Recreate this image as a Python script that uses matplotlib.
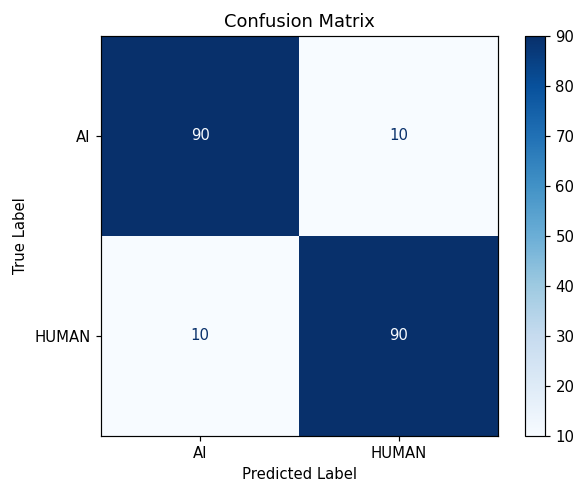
import numpy as np
import matplotlib
matplotlib.use('Agg')
import matplotlib.pyplot as plt

labels = ['AI', 'HUMAN']
cm = np.array([[90, 10],
               [10, 90]])

DPI = 107
W, H = 575, 481
fig = plt.figure(figsize=(W/DPI, H/DPI), dpi=DPI)
ax = fig.add_axes([101/W, 1 - 436/H, 397/W, 400/H])
cax = fig.add_axes([525/W, 1 - 436/H, 20/W, 400/H])

cmap = plt.cm.Blues
im = ax.imshow(cm, interpolation='nearest', cmap=cmap, aspect='auto')
fig.colorbar(im, cax=cax)

thresh = (cm.max() + cm.min()) / 2.0
for i in range(cm.shape[0]):
    for j in range(cm.shape[1]):
        color = cmap(0) if cm[i, j] > thresh else cmap(1.0)
        ax.text(j, i, format(cm[i, j], 'd'), ha='center', va='center', color=color)

ax.set_xticks(range(len(labels)))
ax.set_yticks(range(len(labels)))
ax.set_xticklabels(labels)
ax.set_yticklabels(labels)
ax.set_xlabel('Predicted Label')
ax.set_ylabel('True Label', labelpad=4.5)
ax.set_title('Confusion Matrix')

fig.savefig('out.png', dpi=DPI)
